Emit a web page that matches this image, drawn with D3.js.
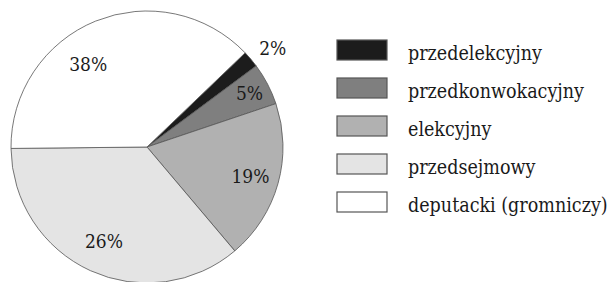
<!DOCTYPE html>
<html>
<head>
<meta charset="utf-8">
<script src="https://cdn.jsdelivr.net/npm/d3@7"></script>
<style>
  body { margin: 0; background: #fff; }
  text { font-family: "DejaVu Serif Condensed", "DejaVu Serif", serif; fill: #1a1a1a; }
</style>
</head>
<body>
<div id="chart"></div>
<script>
// categories in drawing order (clockwise from ~1:30)
const categories = ["przedelekcyjny", "przedkonwokacyjny", "elekcyjny", "przedsejmowy", "deputacki (gromniczy)"];
// slice sizes as drawn in the picture
const values = [2, 5, 19, 36, 38];
// labels as printed
const labels = ["2%", "5%", "19%", "26%", "38%"];
const colors = ["#1c1c1c", "#7f7f7f", "#b1b1b1", "#e4e4e4", "#ffffff"];

const width = 611, height = 282;
const cx = 147, cy = 147, radius = 136;

const svg = d3.select("#chart")
    .append("svg")
    .attr("width", width)
    .attr("height", height);

const g = svg.append("g")
    .attr("transform", `translate(${cx},${cy})`);

const start = 46.2 * Math.PI / 180;
const pie = d3.pie()
    .sort(null)
    .value(d => d)
    .startAngle(start)
    .endAngle(start + 2 * Math.PI);

const arcs = pie(values);

const arc = d3.arc().innerRadius(0).outerRadius(radius);

g.selectAll("path")
    .data(arcs)
    .enter()
    .append("path")
    .attr("d", arc)
    .attr("fill", (d, i) => colors[i])
    .attr("stroke", "#555")
    .attr("stroke-width", 0.8);

// label positions: tiny slice outside, others inside
function labelPos(d, i) {
    let a = (d.startAngle + d.endAngle) / 2;
    let r = radius * 0.79;
    if (d.value < 3) { r = radius + 24; a += 2 * Math.PI / 180; }
    else if (d.value < 10) r = radius * 0.85;
    if (i === 3) r = radius * 0.76;
    if (i === 4) { a -= 13 * Math.PI / 180; r = radius * 0.75; } // 38% sits left of the middle
    return [Math.sin(a) * r, -Math.cos(a) * r];
}

g.selectAll("text.lbl")
    .data(arcs)
    .enter()
    .append("text")
    .attr("class", "lbl")
    .attr("x", (d, i) => labelPos(d, i)[0])
    .attr("y", (d, i) => labelPos(d, i)[1])
    .attr("dy", "0.36em")
    .attr("text-anchor", "middle")
    .style("font-size", "19px")
    .text((d, i) => labels[i]);

// legend
const legend = svg.append("g")
    .attr("transform", "translate(337,40)");

const row = d3.scaleBand()
    .domain(categories)
    .range([0, 190]);

const items = legend.selectAll("g")
    .data(categories)
    .enter()
    .append("g")
    .attr("transform", d => `translate(0,${row(d)})`);

items.append("rect")
    .attr("width", 50)
    .attr("height", 20)
    .attr("fill", (d, i) => colors[i])
    .attr("stroke", "#555")
    .attr("stroke-width", 1.2);

items.append("text")
    .attr("x", 71)
    .attr("y", 20)
    .style("font-size", "19.5px")
    .text(d => d);
</script>
</body>
</html>
